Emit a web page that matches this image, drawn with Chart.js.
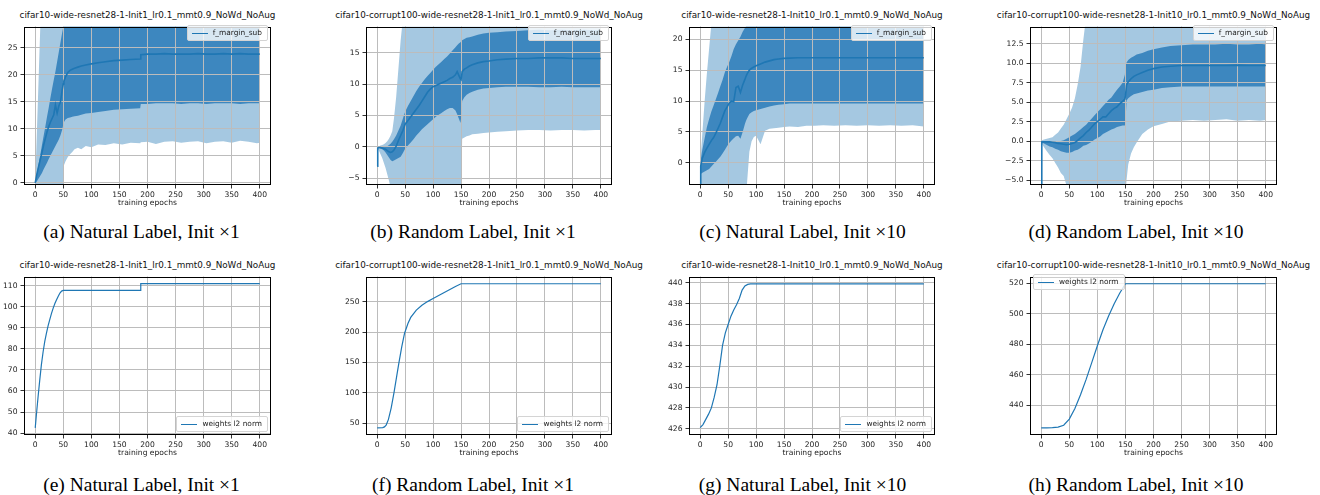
<!DOCTYPE html>
<html>
<head>
<meta charset="utf-8">
<script src="https://cdn.jsdelivr.net/npm/chart.js@4.4.1/dist/chart.umd.min.js"></script>
<style>
  body { margin:0; width:1320px; height:495px; overflow:hidden; background:#fff; position:relative; font-family:"DejaVu Sans", sans-serif; }
  canvas { position:absolute; }
  #titles { position:absolute; left:0; top:0; width:1310px; height:495px; overflow:hidden; }
  .ttl { position:absolute; font-size:8.8px; color:#111; white-space:nowrap; transform:translate(-50%,-50%); }
  .cap { position:absolute; font-family:"Liberation Serif", "Times New Roman", serif; font-size:19.5px; color:#000; white-space:nowrap; transform:translate(-50%,-50%); }
  .leg { position:absolute; background:rgba(255,255,255,0.8); border:1px solid #d4d4d4; border-radius:2px; font-size:7.4px; color:#222; padding:3px 5px 3px 4px; display:flex; align-items:center; white-space:nowrap; line-height:8px; }
  .leg i { display:inline-block; width:16px; height:0; border-top:1.5px solid #1f77b4; margin-right:5px; }
</style>
</head>
<body>
<div id="titles"></div>
<script>
// ---- data ----
const xTicks = [0, 50, 100, 150, 200, 250, 300, 350, 400];

const epochsA = [0,3,6,9,12,15,18,21,24,27, 30,33,36,39,42,45,48,50,51,54, 58,62,66,70,76,82,90,100,112,125, 140,155,170,187,188,200,215,230,245,260, 275,290,305,320,335,350,365,380,395,400];
const meanA = [0,1.6,3.0,4.3,5.6,7.0,8.2,9.4,10.4,11.2, 11.9,12.6,14.4,12.9,14.2,15.0,17.2,18.3,18.8,19.6, 20.4,20.8,21.0,21.2,21.4,21.6,21.8,22.0,22.2,22.4, 22.6,22.7,22.8,22.9,23.7,23.8,23.8,23.9,23.8,23.8, 23.8,23.9,23.8,23.8,23.9,23.8,23.9,23.8,23.8,23.8];
const darkUpA = [0,1.8,3.5,5.2,7.0,8.7,10.4,12.2,13.9,15.7, 17.4,19.0,20.6,22.4,24.2,26.0,27.8,28.8,29.5,30.0, 30.5,31.0,31.2,31.4,31.5,31.6,31.4,31.3,31.4,31.5, 31.7,31.8,31.9,32.0,33.0,33.0,33.0,33.1,33.0,33.0, 33.0,33.1,33.0,33.0,33.1,33.0,33.0,33.0,33.0,33.0];
const darkLoA = [0,0.3,0.8,1.3,1.8,2.5,3.1,3.7,4.4,5.0, 5.6,6.2,6.8,7.4,8.0,8.8,9.8,10.8,11.2,11.7, 12.0,12.1,12.2,12.3,12.4,12.6,12.8,12.9,13.1,13.3, 13.5,13.6,13.7,13.8,14.6,14.6,14.7,14.7,14.7,14.6, 14.7,14.7,14.6,14.7,14.7,14.7,14.6,14.7,14.7,14.7];
const lightUpA = [0,9.6,19.2,28.8,35,38,40,41,42,43, 44,44,45,45,45,45,45,45,45,44, 43,42,41,41,40,40,40,40,40,40, 40,40,40,40,40,40,40,40,40,40, 40,40,40,40,40,40,40,40,40,40];
const lightLoA = [0,-8,-12,-14,-15,-15,-15,-15,-15,-15, -15,-15,-15,-15,-15,-15,-15,-12,3.2,4.0, 4.8,5.3,5.7,6.2,6.5,6.2,6.8,6.6,7.1,7.0, 7.3,7.1,7.4,7.3,7.5,7.6,7.2,7.6,7.7,7.4, 7.6,7.7,7.3,7.6,7.7,7.4,7.8,7.6,7.3,7.4];

const epochsB = [0,1,3,6,9,12,15,18,21,24, 27,30,34,38,42,46,50,55,60,65, 70,75,80,85,90,95,100,105,110,115, 120,125,130,135,140,143,146,149,150,152, 156,160,165,170,180,190,200,215,230,250, 270,290,310,330,350,370,390,400];
const meanB = [-3.1,-0.2,-0.1,-0.1,-0.2,-0.3,-0.4,-0.6,-0.8,-0.9, -0.8,-0.5,0.1,1.0,1.8,2.6,3.6,4.2,4.8,5.4, 6.0,6.6,7.3,8.0,8.7,9.2,9.6,9.8,10.0,10.2, 10.4,10.6,10.9,11.1,11.5,12.0,11.4,10.8,10.7,12.0, 12.4,12.6,12.9,13.1,13.4,13.6,13.7,13.9,14.0,14.1, 14.1,14.2,14.2,14.2,14.1,14.1,14.1,14.1];
const darkUpB = [-3.1,-0.1,0,0,0,0,0,0.1,0.3,0.5, 0.8,1.2,1.8,2.6,3.4,4.5,5.6,6.5,7.3,8.1, 8.9,9.6,10.2,10.8,11.3,11.8,12.3,12.8,13.2,13.6, 14.0,14.4,14.9,15.4,15.9,16.2,16.5,16.7,16.8,17.0, 17.2,17.4,17.5,17.6,17.9,18.1,18.2,18.3,18.4,18.5, 18.6,18.7,18.6,18.7,18.6,18.7,18.6,18.7];
const darkLoB = [-3.1,-0.3,-0.2,-0.3,-0.4,-0.6,-0.9,-1.3,-1.7,-2.1, -2.3,-2.2,-2.0,-1.8,-1.6,-1.0,-0.3,0.2,0.7,1.2, 1.8,2.3,2.8,3.2,3.6,4.0,4.4,4.8,5.1,5.4, 5.7,6.0,6.2,6.2,5.8,5.2,4.5,3.8,4.5,7.3, 7.9,8.3,8.6,8.8,9.1,9.3,9.4,9.5,9.6,9.6, 9.6,9.5,9.5,9.6,9.5,9.5,9.5,9.5];
const lightUpB = [-3.1,0,0.1,0.2,0.3,0.4,0.6,0.9,1.3,1.8, 2.5,4.5,8.0,12.5,17.0,20.5,24,26,27,28, 28,28,28,28,28,28,28,28,28,28, 28,28,28,28,28,28,28,28,28,26, 25,25,25,25,25,25,25,25,25,25, 25,25,25,25,25,25,25,25];
const lightLoB = [-3.1,-0.4,-0.6,-1.2,-1.8,-2.6,-3.4,-4.4,-5.4,-6.5, -8,-9,-10,-11,-12,-12,-12,-12,-12,-12, -12,-12,-12,-12,-12,-12,-12,-12,-12,-12, -12,-12,-12,-12,-12,-12,-12,-12,-10,1.3, 1.5,1.7,1.8,2.0,2.1,2.2,2.3,2.4,2.5,2.6, 2.7,2.7,2.6,2.7,2.7,2.6,2.7,2.7];

const epochsC = [0,1,4,8,12,16,20,24,28,32, 36,40,44,48,52,56,60,64,68,72, 76,80,82,84,88,92,96,100,108,116, 124,132,140,150,160,175,190,205,220,240, 260,280,300,320,340,360,380,400];
const meanC = [-4.5,-0.5,0.8,1.7,2.4,3.0,3.6,4.1,4.8,5.6, 6.4,7.4,8.4,9.0,9.7,10.0,9.9,12.2,12.4,11.4, 12.6,13.5,14.0,14.4,15.0,15.3,15.5,15.7,16.0,16.3, 16.5,16.7,16.8,16.9,16.95,17.0,17.0,17.0,17.0,17.0, 17.0,17.0,17.0,17.0,17.0,17.0,17.0,17.0];
const darkUpC = [-4.5,0.5,2.2,4.0,5.8,7.1,8.3,9.3,10.3,11.3, 12.4,13.4,14.6,15.5,16.3,17.3,18.4,19.2,19.8,20.4, 21.2,21.8,22.1,22.5,23.0,23.3,23.5,23.7,24.0,24.2, 24.3,24.4,24.4,24.4,24.4,24.4,24.4,24.4,24.4,24.4, 24.4,24.4,24.4,24.4,24.4,24.4,24.4,24.4];
const darkLoC = [-4.5,-1.8,-1.6,-1.4,-1.2,-1.0,-0.6,-0.2,0.2,0.6, 1.0,1.5,2.1,2.7,3.2,3.6,4.0,4.3,4.4,3.9, 5.0,6.3,6.8,7.2,7.9,8.2,8.4,8.5,8.7,8.9, 9.1,9.3,9.4,9.5,9.6,9.6,9.6,9.6,9.6,9.6, 9.6,9.6,9.6,9.6,9.6,9.6,9.6,9.6];
const lightUpC = [-4.5,1.0,5.0,10.0,14.5,18.5,22.5,26,28,30, 30,30,30,30,30,30,30,30,30,30, 30,30,30,30,30,30,30,30,30,30, 30,30,30,30,30,30,30,30,30,30, 30,30,30,30,30,30,30,30];
const lightLoC = [-4.5,-5,-8,-10,-10,-10,-10,-10,-10,-10, -10,-10,-10,-10,-10,-10,-10,-10,-10,-10, -10,-10,-6,-3,1.8,3.5,4.2,4.4,3.0,5.2, 5.5,5.6,5.7,5.8,5.9,5.8,6.0,6.0,6.1,6.0, 6.1,6.0,6.1,6.0,6.1,6.0,6.1,5.9];

const epochsD = [0,1,5,10,15,20,25,30,35,40, 45,50,55,60,65,70,75,80,85,90, 95,100,105,110,115,120,125,130,135,140, 145,149,150,152,155,160,165,170,180,190, 200,215,230,250,270,290,310,330,350,370, 390,400];
const meanD = [-6,-0.1,-0.1,-0.1,-0.1,-0.15,-0.2,-0.3,-0.35,-0.4, -0.45,-0.4,-0.3,-0.2,0.1,0.4,0.7,1.1,1.4,1.8, 2.2,2.5,2.8,3.1,3.1,3.5,3.9,4.2,4.4,4.8, 5.1,5.4,5.8,7.2,7.6,8.0,8.3,8.5,8.8,9.1, 9.3,9.5,9.6,9.7,9.7,9.7,9.7,9.7,9.75,9.7, 9.7,9.7];
const darkUpD = [-6,0,0,0,0,0,-0.05,-0.05,0,0.1, 0.3,0.5,0.7,0.9,1.2,1.5,1.8,2.1,2.5,2.9, 3.3,3.7,4.1,4.5,4.9,5.3,5.6,6.1,6.6,7.0, 7.5,8.5,9.6,10.1,10.4,10.7,10.9,11.1,11.3,11.6, 11.8,12.0,12.2,12.3,12.4,12.4,12.4,12.5,12.4,12.4, 12.5,12.4];
const darkLoD = [-6,-0.2,-0.3,-0.5,-0.7,-0.8,-1.0,-1.1,-1.3,-1.4, -1.5,-1.5,-1.4,-1.2,-1.1,-0.9,-0.6,-0.5,-0.3,-0.1, 0.2,0.4,0.6,0.9,1.1,1.3,1.5,1.6,1.8,1.9, 2.0,2.0,2.3,5.2,5.5,5.8,6.0,6.1,6.3,6.5, 6.6,6.8,6.9,7.0,7.0,7.0,7.0,7.0,7.0,7.0, 7.0,7.0];
const lightUpD = [-6,0.1,0.2,0.3,0.4,0.5,0.8,1.1,1.6,2.1, 2.8,3.5,4.3,5.5,7.3,9.5,13,16,18,19, 19,19,19,19,19,19,19,19,19,19, 19,19,19,19,18,17,16,16,16,16, 16,16,16,16,16,16,16,16,16,16, 16,16];
const lightLoD = [-6,-0.3,-0.8,-1.3,-1.8,-2.2,-2.8,-3.4,-4.1,-4.5, -5.7,-6.5,-8,-8,-8,-8,-8,-8,-8,-8, -8,-8,-8,-8,-8,-8,-8,-8,-8,-8, -8,-8,-7,-5,-3.0,-1.6,-0.8,-0.2,0.9,1.5, 1.9,2.2,2.5,2.6,2.7,2.6,2.7,2.8,2.6,2.7, 2.6,2.7];

const epochsE = [0,2,5,8,11,14,17,20,23,26,29,32,35,38,41,44,47,50,100,150,187,188,250,300,350,400];
const normE = [42.5,48.5,57,65,72.5,78.5,83.5,87.5,91,94,96.8,99.3,101.5,103.3,105,106.5,107.4,107.7,107.7,107.7,107.7,110.9,110.9,110.9,110.9,110.9];

const epochsF = [0,10,13,16,20,25,30,35,39,44,49,55,60,70,80,90,100,110,120,130,140,150,200,300,400];
const normF = [42.5,42.8,44,47,56,75,100,128,150,176,198,214,224,236,244,250,255,260,265,270,275,279.4,279.4,279.4,279.4];

const epochsG = [0,5,10,15,20,25,30,35,40,45,50,55,60,65,70,75,80,85,90,100,200,300,400];
const normG = [426.1,426.4,426.9,427.4,428.0,429.0,430.2,432.0,434.0,435.2,436.0,436.8,437.4,437.9,438.5,439.3,439.7,439.85,439.9,439.9,439.9,439.9,439.9];

const epochsH = [0,10,20,30,40,50,60,70,80,90,100,110,120,130,140,150,200,300,400];
const normH = [425.3,425.3,425.4,425.8,427,431,438,447,457,468,479,489.5,498.5,506.5,513.5,519.6,519.6,519.6,519.6];

const yTicksA = [0, 5, 10, 15, 20, 25];
const yTicksB = [-5, 0, 5, 10, 15];
const yTicksC = [0, 5, 10, 15, 20];
const yTicksD = [-5, -2.5, 0, 2.5, 5, 7.5, 10, 12.5];
const yTicksE = [40, 50, 60, 70, 80, 90, 100, 110];
const yTicksF = [50, 100, 150, 200, 250];
const yTicksG = [426, 428, 430, 432, 434, 436, 438, 440];
const yTicksH = [440, 460, 480, 500, 520];

const titlesTop = [
  "cifar10-wide-resnet28-1-Init1_lr0.1_mmt0.9_NoWd_NoAug",
  "cifar10-corrupt100-wide-resnet28-1-Init1_lr0.1_mmt0.9_NoWd_NoAug",
  "cifar10-wide-resnet28-1-Init10_lr0.1_mmt0.9_NoWd_NoAug",
  "cifar10-corrupt100-wide-resnet28-1-Init10_lr0.1_mmt0.9_NoWd_NoAug"
];
const captions = [
  "(a) Natural Label, Init \u00d71", "(b) Random Label, Init \u00d71",
  "(c) Natural Label, Init \u00d710", "(d) Random Label, Init \u00d710",
  "(e) Natural Label, Init \u00d71", "(f) Random Label, Init \u00d71",
  "(g) Natural Label, Init \u00d710", "(h) Random Label, Init \u00d710"
];

// ---- layout ----
const cols = [[24, 271], [366, 612], [689, 935], [1030, 1277]];
const capX = [141.5, 473, 802.5, 1136];
const rows = [{T: 23, B: 185, titleY: 15, capY: 232}, {T: 273, B: 435, titleY: 265, capY: 485}];

const lightBlue = '#a5c8e1';
const darkBlue = '#3d87bf';
const lineBlue = '#1f77b4';
const gridColor = '#bcbcbc';

const panels = [
  {ep: epochsA, mean: meanA, band: [lightUpA, lightLoA, darkUpA, darkLoA], ymin: -0.4, ymax: 28.9, yt: yTicksA, dec: 0, leg: 'f_margin_sub', legPos: 'tr'},
  {ep: epochsB, mean: meanB, band: [lightUpB, lightLoB, darkUpB, darkLoB], ymin: -6.1, ymax: 19.2, yt: yTicksB, dec: 0, leg: 'f_margin_sub', legPos: 'tr'},
  {ep: epochsC, mean: meanC, band: [lightUpC, lightLoC, darkUpC, darkLoC], ymin: -3.58, ymax: 22.05, yt: yTicksC, dec: 0, leg: 'f_margin_sub', legPos: 'tr'},
  {ep: epochsD, mean: meanD, band: [lightUpD, lightLoD, darkUpD, darkLoD], ymin: -5.64, ymax: 14.7, yt: yTicksD, dec: 1, leg: 'f_margin_sub', legPos: 'tr'},
  {ep: epochsE, mean: normE, ymin: 39.1, ymax: 114.3, yt: yTicksE, dec: 0, leg: 'weights l2 norm', legPos: 'br'},
  {ep: epochsF, mean: normF, ymin: 30.7, ymax: 291.2, yt: yTicksF, dec: 0, leg: 'weights l2 norm', legPos: 'br'},
  {ep: epochsG, mean: normG, ymin: 425.4, ymax: 440.6, yt: yTicksG, dec: 0, leg: 'weights l2 norm', legPos: 'br'},
  {ep: epochsH, mean: normH, ymin: 420.6, ymax: 524.3, yt: yTicksH, dec: 0, leg: 'weights l2 norm', legPos: 'tl'}
];

const fmt = (v, dec) => v.toFixed(dec).replace('-', '\u2212');
const pts = (xs, ys) => xs.map((x, i) => ({x: x, y: ys[i]}));

// grid goes over the filled bands but under the mean line
const gridOverFill = {
  id: 'gridOverFill',
  afterDatasetDraw(chart, args) {
    if (!chart.options.plugins.gridOverFill.on || args.index !== 2) return;
    const a = chart.chartArea, ctx = chart.ctx;
    ctx.save();
    ctx.beginPath();
    ctx.rect(a.left, a.top, a.right - a.left, a.bottom - a.top);
    ctx.clip();
    chart.scales.x.drawGrid(a);
    chart.scales.y.drawGrid(a);
    ctx.restore();
  }
};

const frame = {
  id: 'frame',
  afterDraw(chart) {
    const a = chart.chartArea, ctx = chart.ctx;
    ctx.save();
    ctx.strokeStyle = '#000';
    ctx.lineWidth = 1;
    ctx.strokeRect(Math.round(a.left) + 0.5, Math.round(a.top) + 0.5, Math.round(a.right - a.left) - 1, Math.round(a.bottom - a.top) - 1);
    ctx.restore();
  }
};

function makeChart(p, idx) {
  const col = cols[idx % 4], row = rows[Math.floor(idx / 4)];
  const L = col[0], R = col[1], T = row.T, B = row.B;
  const padL = 40, padT = 4, padR = 4, axisH = 30;
  const w = R - L + padL + padR, h = B - T + padT + axisH;

  const cv = document.createElement('canvas');
  cv.width = w; cv.height = h;
  cv.style.left = (L - padL) + 'px';
  cv.style.top = (T - padT) + 'px';
  cv.style.width = w + 'px';
  cv.style.height = h + 'px';
  document.body.appendChild(cv);

  const datasets = [];
  if (p.band) {
    const none = 'rgba(0,0,0,0)';
    datasets.push({data: pts(p.ep, p.band[0]), fill: '+1', backgroundColor: lightBlue, borderColor: none, borderWidth: 0, pointRadius: 0, order: 2});
    datasets.push({data: pts(p.ep, p.band[1]), fill: false, borderColor: none, borderWidth: 0, pointRadius: 0, order: 2});
    datasets.push({data: pts(p.ep, p.band[2]), fill: '+1', backgroundColor: darkBlue, borderColor: none, borderWidth: 0, pointRadius: 0, order: 1});
    datasets.push({data: pts(p.ep, p.band[3]), fill: false, borderColor: none, borderWidth: 0, pointRadius: 0, order: 1});
  }
  datasets.push({data: pts(p.ep, p.mean), fill: false, borderColor: lineBlue, borderWidth: p.band ? 1.6 : 1.2, pointRadius: 0, order: 0});

  const tickFont = {family: 'DejaVu Sans', size: 7.6};
  new Chart(cv.getContext('2d'), {
    type: 'line',
    data: {datasets: datasets},
    options: {
      responsive: false,
      animation: false,
      events: [],
      layout: {padding: {left: 0, top: padT, right: padR, bottom: 0}},
      plugins: {legend: {display: false}, tooltip: {enabled: false}, gridOverFill: {on: !!p.band}},
      elements: {line: {tension: 0}},
      scales: {
        x: {
          type: 'linear', min: -20, max: 420,
          afterBuildTicks: s => { s.ticks = xTicks.map(v => ({value: v})); },
          afterFit: s => { s.height = axisH; },
          ticks: {autoSkip: false, maxRotation: 0, minRotation: 0, padding: 1.5, color: '#222', font: tickFont, callback: v => String(v)},
          grid: {color: gridColor, lineWidth: 1, tickLength: 3.5, tickColor: '#000', tickWidth: 0.8},
          border: {display: false},
          title: {display: true, text: 'training epochs', color: '#222', font: {family: 'DejaVu Sans', size: 7.6, lineHeight: 1.2}, padding: {top: 0, bottom: 7.5}}
        },
        y: {
          type: 'linear', min: p.ymin, max: p.ymax,
          afterBuildTicks: s => { s.ticks = p.yt.map(v => ({value: v})); },
          afterFit: s => { s.width = padL; },
          ticks: {autoSkip: false, padding: 3, color: '#222', font: tickFont, callback: v => fmt(v, p.dec)},
          grid: {color: gridColor, lineWidth: 1, tickLength: 3.5, tickColor: '#000', tickWidth: 0.8},
          border: {display: false}
        }
      }
    },
    plugins: [gridOverFill, frame]
  });

  // title, legend, caption
  const t = document.createElement('div');
  t.className = 'ttl';
  t.textContent = titlesTop[idx % 4];
  t.style.left = ((L + R) / 2) + 'px';
  t.style.top = row.titleY + 'px';
  document.getElementById('titles').appendChild(t);

  const lg = document.createElement('div');
  lg.className = 'leg';
  lg.innerHTML = '<i></i>' + p.leg;
  if (p.legPos === 'tr') { lg.style.right = (1320 - (R - 3)) + 'px'; lg.style.top = (T + 2) + 'px'; }
  if (p.legPos === 'br') { lg.style.right = (1320 - (R - 3)) + 'px'; lg.style.bottom = (495 - (B - 3)) + 'px'; }
  if (p.legPos === 'tl') { lg.style.left = (L + 3) + 'px'; lg.style.top = (T + 1) + 'px'; }
  document.body.appendChild(lg);

  const c = document.createElement('div');
  c.className = 'cap';
  c.textContent = captions[idx];
  c.style.left = capX[idx % 4] + 'px';
  c.style.top = row.capY + 'px';
  document.body.appendChild(c);
}

panels.forEach(makeChart);
</script>
</body>
</html>
